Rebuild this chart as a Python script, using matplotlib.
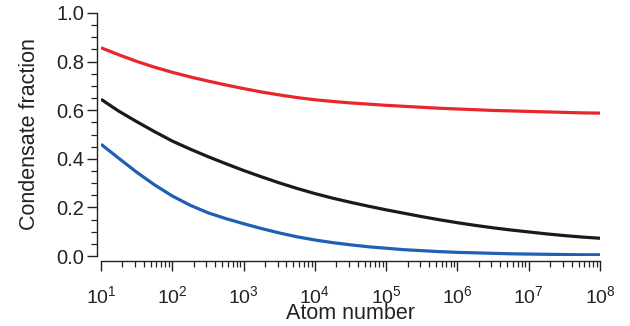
import numpy as np
import matplotlib
matplotlib.use("Agg")
import matplotlib.pyplot as plt
from matplotlib.ticker import LogLocator, MultipleLocator

plt.rcParams['font.family'] = ['Liberation Sans', 'DejaVu Sans']
plt.rcParams['mathtext.fontset'] = 'custom'
plt.rcParams['mathtext.rm'] = 'Liberation Sans'

# atom number as log10 exponents, in quarter-decade steps from 10^1 to 10^8
atom_exponent = [1, 1.25, 1.5, 1.75, 2, 2.25, 2.5, 2.75, 3, 3.25, 3.5, 3.75,
                 4, 4.25, 4.5, 4.75, 5, 5.25, 5.5, 5.75, 6, 6.25, 6.5, 6.75,
                 7, 7.25, 7.5, 7.75, 8]
red_fraction = [0.857, 0.828, 0.801, 0.777, 0.756, 0.737, 0.720, 0.704, 0.689,
                0.675, 0.663, 0.652, 0.643, 0.636, 0.630, 0.625, 0.620, 0.616,
                0.612, 0.608, 0.605, 0.602, 0.599, 0.597, 0.595, 0.593, 0.591,
                0.589, 0.588]
black_fraction = [0.645, 0.596, 0.553, 0.512, 0.473, 0.440, 0.409, 0.380, 0.352,
                  0.326, 0.301, 0.278, 0.257, 0.238, 0.221, 0.205, 0.190, 0.176,
                  0.162, 0.149, 0.137, 0.126, 0.116, 0.107, 0.099, 0.091, 0.084,
                  0.078, 0.073]
blue_fraction = [0.460, 0.402, 0.345, 0.293, 0.247, 0.209, 0.178, 0.154, 0.133,
                 0.113, 0.095, 0.079, 0.066, 0.055, 0.046, 0.038, 0.032, 0.026,
                 0.022, 0.018, 0.015, 0.013, 0.011, 0.009, 0.008, 0.007, 0.006,
                 0.005, 0.005]

atom_number = 10.0 ** np.array(atom_exponent)

fig = plt.figure(figsize=(6.3, 3.26), dpi=100)
ax = fig.add_axes([101 / 630, 70 / 326, 499 / 630, 243 / 326])

ax.plot(atom_number, red_fraction, color='#e8262b', lw=2.3, solid_capstyle='butt')
ax.plot(atom_number, black_fraction, color='#1a1a1a', lw=2.3, solid_capstyle='butt')
ax.plot(atom_number, blue_fraction, color='#1f5fb4', lw=2.3, solid_capstyle='butt')

ax.set_xscale('log')
ax.set_xlim(1e1, 1e8)
ax.set_ylim(0, 1.0)

ax.spines['top'].set_visible(False)
ax.spines['right'].set_visible(False)
ax.spines['left'].set_position(('outward', 3))
ax.spines['bottom'].set_position(('outward', 3.6))
for s in ['left', 'bottom']:
    ax.spines[s].set_linewidth(1.0)
    ax.spines[s].set_color('#222222')

ax.xaxis.set_major_locator(LogLocator(base=10, numticks=20))
ax.xaxis.set_minor_locator(LogLocator(base=10, subs=np.arange(2, 10), numticks=20))
ax.yaxis.set_major_locator(MultipleLocator(0.2))
ax.yaxis.set_minor_locator(MultipleLocator(0.05))

ax.tick_params(axis='x', which='major', length=7.5, width=1.0, pad=10, labelsize=14, colors='#222222')
ax.tick_params(axis='x', which='minor', length=4.5, width=0.9, colors='#222222')
ax.tick_params(axis='y', which='major', length=7, width=1.0, pad=2, labelsize=14.5, colors='#222222')
ax.tick_params(axis='y', which='minor', length=4, width=0.9, colors='#222222')
ax.set_yticks([0, 0.2, 0.4, 0.6, 0.8, 1.0])
ax.set_yticklabels(['0.0', '0.2', '0.4', '0.6', '0.8', '1.0'])

ax.set_xlabel('Atom number', fontsize=15.5, labelpad=-3, color='#222222')
ax.set_ylabel('Condensate fraction', fontsize=15.5, labelpad=12, color='#222222')

fig.savefig('out.png', dpi=100)
